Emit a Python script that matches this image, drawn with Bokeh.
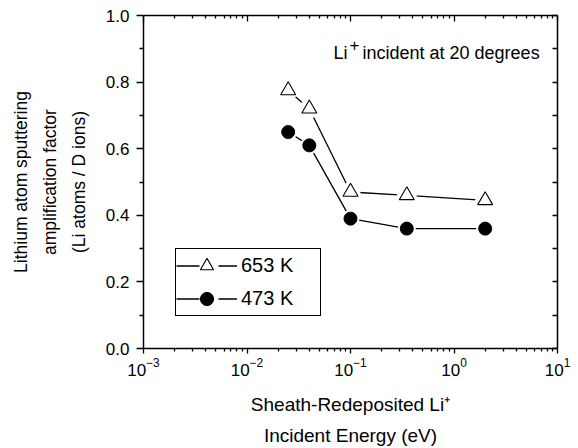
import math
from bokeh.plotting import figure
from bokeh.models import (LinearAxis, LogAxis, FixedTicker, PrintfTickFormatter,
                          CustomJSTickFormatter, Label, Legend, LegendItem, ColumnDataSource)
from bokeh.embed import file_html
from bokeh.resources import INLINE

# ---- data ----
energy = [0.025, 0.04, 0.1, 0.35, 2.0]
amp_653 = [0.775, 0.72, 0.47, 0.46, 0.445]
amp_473 = [0.65, 0.61, 0.39, 0.36, 0.36]
series_labels = ["653 K", "473 K"]
x_ticks = [1e-3, 1e-2, 1e-1, 1e0, 1e1]
y_ticks = [0.0, 0.2, 0.4, 0.6, 0.8, 1.0]
y_minor = [0.1, 0.3, 0.5, 0.7, 0.9]
x_minor = [m * d for d in x_ticks[:-1] for m in range(2, 10)]
y_title = "Lithium atom sputtering\namplification factor\n(Li atoms / D ions)"
x_title = "Sheath-Redeposited Li\u207a\nIncident Energy (eV)"

FONT = "Liberation Sans"

p = figure(x_axis_type="log", x_range=(1e-3, 1e1), y_range=(0.0, 1.0),
           frame_width=414, frame_height=333,
           min_border_left=143, min_border_right=21, min_border_top=15, min_border_bottom=100,
           output_backend="svg", toolbar_location=None)
p.grid.visible = False
p.outline_line_color = None
p.background_fill_color = "white"
p.border_fill_color = "white"

xt = FixedTicker(ticks=x_ticks, minor_ticks=x_minor)
yt = FixedTicker(ticks=y_ticks, minor_ticks=y_minor)

def style(ax):
    ax.axis_line_color = "black"
    ax.axis_line_width = 1.5
    ax.major_tick_line_color = "black"
    ax.minor_tick_line_color = "black"
    ax.major_tick_line_width = 1.3
    ax.minor_tick_line_width = 1.3
    ax.major_label_text_font = FONT
    ax.major_label_text_font_size = "17px"
    ax.major_label_text_color = "black"
    ax.axis_label_text_font = FONT
    ax.axis_label_text_font_style = "normal"
    ax.axis_label_text_color = "black"

xa = p.xaxis[0]
xa.ticker = xt
style(xa)
xa.major_tick_out = 5
xa.major_tick_in = 0
xa.minor_tick_out = 3
xa.minor_tick_in = 0
xa.major_label_standoff = 4
xa.axis_label = x_title
xa.axis_label_text_font_size = "19px"
xa.axis_label_text_line_height = 1.5
xa.axis_label_standoff = 15

ya = p.yaxis[0]
ya.ticker = yt
ya.formatter = PrintfTickFormatter(format="%.1f")
style(ya)
ya.major_tick_out = 7
ya.major_tick_in = 0
ya.minor_tick_out = 4
ya.minor_tick_in = 0
ya.major_label_standoff = 7
ya.axis_label = y_title
ya.axis_label_text_font_size = "17.5px"
ya.axis_label_text_line_height = 1.45
ya.axis_label_standoff = 14

top = LogAxis(ticker=FixedTicker(ticks=x_ticks, minor_ticks=x_minor),
              formatter=CustomJSTickFormatter(code="return ''"))
style(top)
top.major_tick_in = 6
top.major_tick_out = 0
top.minor_tick_in = 3
top.minor_tick_out = 0
p.add_layout(top, "above")

right = LinearAxis(ticker=FixedTicker(ticks=y_ticks, minor_ticks=y_minor),
                   formatter=CustomJSTickFormatter(code="return ''"))
style(right)
right.major_tick_in = 5
right.major_tick_out = 0
right.minor_tick_in = 5
right.minor_tick_out = 0
p.add_layout(right, "right")

# ---- series ----
src = ColumnDataSource(dict(x=energy, a653=amp_653, a473=amp_473))
p.line("x", "a653", source=src, line_color="black", line_width=1.3)
p.line("x", "a473", source=src, line_color="black", line_width=1.3)
# white halos to create gaps between line and markers
p.scatter("x", "a653", source=src, marker="circle", size=20, fill_color="white", line_color=None)
p.scatter("x", "a473", source=src, marker="circle", size=18, fill_color="white", line_color=None)
tri = p.scatter("x", "a653", source=src, marker="triangle", size=15,
                fill_color="white", line_color="black", line_width=1.1)
cir = p.scatter("x", "a473", source=src, marker="circle", size=13,
                fill_color="black", line_color="black", line_width=1)

# legend line (dashed to leave a gap around the marker)
dummy = ColumnDataSource(dict(x=[float("nan")], y=[float("nan")]))
leg_line = p.line("x", "y", source=dummy, line_color="black", line_width=1.3, line_dash="23 19 40")

legend = Legend(items=[LegendItem(label=series_labels[0], renderers=[leg_line, tri]),
                       LegendItem(label=series_labels[1], renderers=[leg_line, cir])],
                location=(32, 32), padding=0, spacing=0, margin=0,
                glyph_width=61, glyph_height=33, label_height=33, label_width=79,
                label_standoff=4, label_text_font=FONT, label_text_font_size="20px",
                label_text_color="black", border_line_color="black", border_line_width=1.3,
                border_line_alpha=1.0, background_fill_color="white", background_fill_alpha=1.0)
p.add_layout(legend, "center")

# ---- annotation text inside the frame ----
def lab(text, x, y, size):
    p.add_layout(Label(x=x, y=y, x_units="screen", y_units="screen", text=text,
                       text_font=FONT, text_font_size=size, text_color="black",
                       text_align="left", text_baseline="alphabetic"))

lab("Li", 190, 296, "18px")
lab("+", 206, 304, "17px")
lab("incident at 20 degrees", 219, 296, "18px")

open("out.html", "w").write(file_html(p, INLINE))
